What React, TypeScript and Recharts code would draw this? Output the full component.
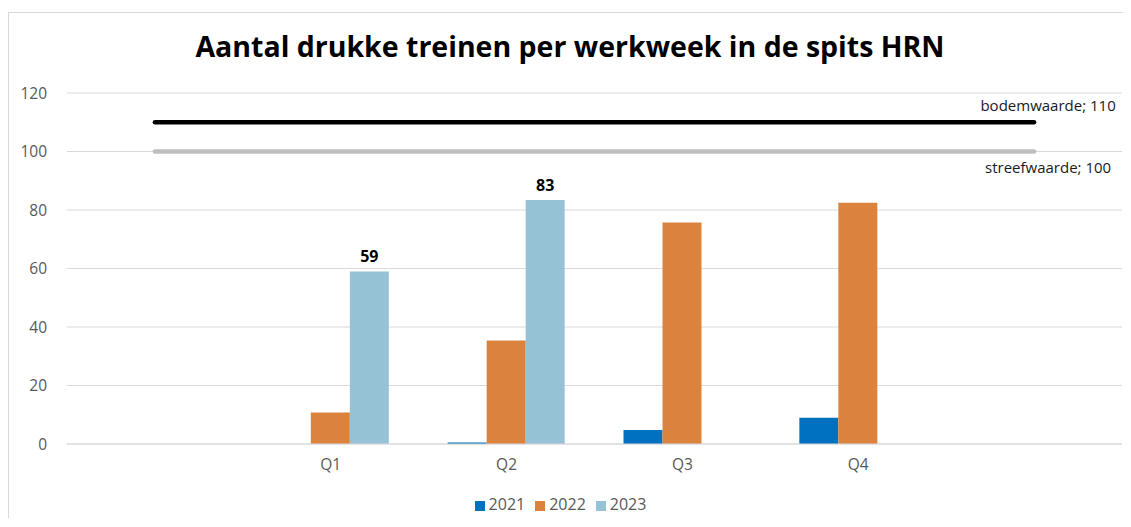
import { ComposedChart, Bar, Line, XAxis, YAxis, CartesianGrid, Legend, LabelList } from 'recharts';

const categories = ['', 'Q1', 'Q2', 'Q3', 'Q4', ' '];
const values2021 = [null, null, 0.5, 4.8, 9, null];
const values2022 = [null, 10.8, 35.4, 75.7, 82.5, null];
const values2023 = [null, 59, 83.4, null, null, null];
const bodemwaarde = [110, 110, 110, 110, 110, 110];
const streefwaarde = [100, 100, 100, 100, 100, 100];
const yTicks = [0, 20, 40, 60, 80, 100, 120];

const data = categories.map((name, i) => ({
  name,
  y2021: values2021[i],
  y2022: values2022[i],
  y2023: values2023[i],
  bodem: bodemwaarde[i],
  streef: streefwaarde[i],
}));

const FONT = '"Open Sans", "Noto Sans", sans-serif';
const AXIS_TEXT = '#595959';

function endLabel(name: string, dy: number) {
  return (props: any) => {
    const { x, y, value, index } = props;
    if (index !== categories.length - 1) return null;
    return (
      <text x={x + 14} y={y + dy} textAnchor="middle" dominantBaseline="central"
        fontFamily={FONT} fontSize={15} fill="#1a1a1a">
        {`${name}; ${value}`}
      </text>
    );
  };
}

export default function App() {
  return (
    <div style={{ position: 'relative', marginTop: 4, width: 1122, height: 505, borderLeft: '1px solid #d9d9d9', borderTop: '1px solid #d9d9d9', fontFamily: FONT }}>
      <div style={{ position: 'absolute', left: 0, right: 0, top: 14, textAlign: 'center', fontSize: 28.5, fontWeight: 700, color: '#000', zIndex: 1 }}>
        Aantal drukke treinen per werkweek in de spits HRN
      </div>
      <ComposedChart width={1122} height={505} data={data}
        margin={{ top: 80, right: 9, bottom: 22, left: 0 }} barGap={0}>
        <CartesianGrid vertical={false} stroke="#d9d9d9" />
        <XAxis dataKey="name" height={30} tickLine={false} axisLine={{ stroke: '#d9d9d9' }} tickSize={0} tickMargin={15}
          tick={{ fill: AXIS_TEXT, fontSize: 15.5, fontFamily: FONT }} interval={0} />
        <YAxis domain={[0, 120]} ticks={yTicks} width={58} tickLine={false} axisLine={false} tickSize={0} tickMargin={20}
          tick={{ fill: AXIS_TEXT, fontSize: 15.5, fontFamily: FONT }} />
        <Legend verticalAlign="bottom" iconType="square" iconSize={10}
          wrapperStyle={{ bottom: 3, fontSize: 16, fontFamily: FONT }}
          formatter={(value: string) => <span style={{ color: AXIS_TEXT }}>{value}</span>} />
        <Bar dataKey="y2021" name="2021" fill="#0070C0" barSize={39} isAnimationActive={false} />
        <Bar dataKey="y2022" name="2022" fill="#DB833C" barSize={39} isAnimationActive={false} />
        <Bar dataKey="y2023" name="2023" fill="#95C3D5" barSize={39} isAnimationActive={false}>
          <LabelList dataKey="y2023" position="top" offset={9}
            formatter={(v: any) => (v == null ? '' : Math.round(v))}
            style={{ fontFamily: FONT, fontSize: 16, fontWeight: 700, fill: '#000' }} />
        </Bar>
        <Line dataKey="bodem" stroke="#000" strokeWidth={4.5} strokeLinecap="round" dot={false} legendType="none" isAnimationActive={false}>
          <LabelList dataKey="bodem" content={endLabel('bodemwaarde', -17)} />
        </Line>
        <Line dataKey="streef" stroke="#BFBFBF" strokeWidth={4.5} strokeLinecap="round" dot={false} legendType="none" isAnimationActive={false}>
          <LabelList dataKey="streef" content={endLabel('streefwaarde', 15)} />
        </Line>
      </ComposedChart>
    </div>
  );
}
